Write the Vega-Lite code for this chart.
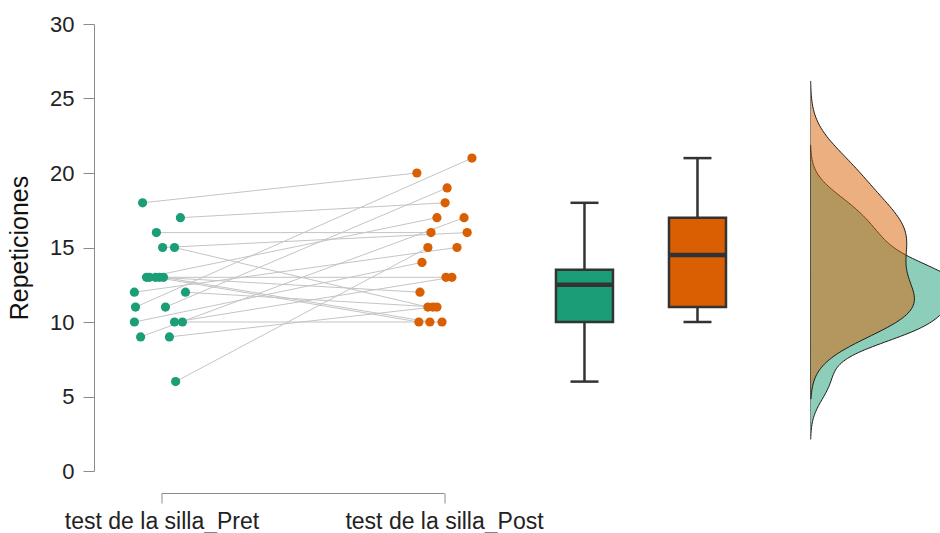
{
  "$schema": "https://vega.github.io/schema/vega-lite/v6.json",
  "background": "white",
  "padding": {"left": 7.5, "top": 13, "right": 0, "bottom": 0},
  "bounds": "flush",
  "spacing": 57,
  "config": {
    "view": {"stroke": null},
    "font": "Liberation Sans",
    "axis": {"labelFont": "Liberation Sans", "titleFont": "Liberation Sans", "grid": false}
  },
  "datasets": {
    "obs": [
      {"id": 1, "time": "test de la silla_Pret", "value": 18, "jitter": -0.067},
      {"id": 1, "time": "test de la silla_Post", "value": 20, "jitter": -0.096},
      {"id": 2, "time": "test de la silla_Pret", "value": 17, "jitter": 0.067},
      {"id": 2, "time": "test de la silla_Post", "value": 18, "jitter": 0.004},
      {"id": 3, "time": "test de la silla_Pret", "value": 16, "jitter": -0.018},
      {"id": 3, "time": "test de la silla_Post", "value": 16, "jitter": -0.046},
      {"id": 4, "time": "test de la silla_Pret", "value": 15, "jitter": 0.004},
      {"id": 4, "time": "test de la silla_Post", "value": 16, "jitter": 0.082},
      {"id": 5, "time": "test de la silla_Pret", "value": 15, "jitter": 0.046},
      {"id": 5, "time": "test de la silla_Post", "value": 11, "jitter": -0.057},
      {"id": 6, "time": "test de la silla_Pret", "value": 13, "jitter": -0.053},
      {"id": 6, "time": "test de la silla_Post", "value": 17, "jitter": -0.025},
      {"id": 7, "time": "test de la silla_Pret", "value": 13, "jitter": -0.021},
      {"id": 7, "time": "test de la silla_Post", "value": 10, "jitter": -0.089},
      {"id": 8, "time": "test de la silla_Pret", "value": 13, "jitter": 0.007},
      {"id": 8, "time": "test de la silla_Post", "value": 10, "jitter": -0.05},
      {"id": 9, "time": "test de la silla_Pret", "value": 13, "jitter": -0.043},
      {"id": 9, "time": "test de la silla_Post", "value": 13, "jitter": 0.007},
      {"id": 10, "time": "test de la silla_Pret", "value": 13, "jitter": -0.007},
      {"id": 10, "time": "test de la silla_Post", "value": 12, "jitter": -0.085},
      {"id": 11, "time": "test de la silla_Pret", "value": 12, "jitter": -0.096},
      {"id": 11, "time": "test de la silla_Post", "value": 15, "jitter": 0.046},
      {"id": 12, "time": "test de la silla_Pret", "value": 12, "jitter": 0.085},
      {"id": 12, "time": "test de la silla_Post", "value": 11, "jitter": -0.025},
      {"id": 13, "time": "test de la silla_Pret", "value": 11, "jitter": -0.092},
      {"id": 13, "time": "test de la silla_Post", "value": 21, "jitter": 0.099},
      {"id": 14, "time": "test de la silla_Pret", "value": 11, "jitter": 0.014},
      {"id": 14, "time": "test de la silla_Post", "value": 19, "jitter": 0.011},
      {"id": 15, "time": "test de la silla_Pret", "value": 10, "jitter": -0.096},
      {"id": 15, "time": "test de la silla_Post", "value": 14, "jitter": -0.078},
      {"id": 16, "time": "test de la silla_Pret", "value": 10, "jitter": 0.046},
      {"id": 16, "time": "test de la silla_Post", "value": 13, "jitter": 0.028},
      {"id": 17, "time": "test de la silla_Pret", "value": 10, "jitter": 0.074},
      {"id": 17, "time": "test de la silla_Post", "value": 10, "jitter": -0.007},
      {"id": 18, "time": "test de la silla_Pret", "value": 9, "jitter": -0.074},
      {"id": 18, "time": "test de la silla_Post", "value": 17, "jitter": 0.071},
      {"id": 19, "time": "test de la silla_Pret", "value": 9, "jitter": 0.028},
      {"id": 19, "time": "test de la silla_Post", "value": 11, "jitter": -0.039},
      {"id": 20, "time": "test de la silla_Pret", "value": 6, "jitter": 0.05},
      {"id": 20, "time": "test de la silla_Post", "value": 15, "jitter": -0.057}
    ]
  },
  "hconcat": [
    {
      "width": 282.5,
      "height": 447,
      "data": {"name": "obs"},
      "encoding": {
        "x": {
          "field": "time", "type": "nominal",
          "sort": ["test de la silla_Pret", "test de la silla_Post"],
          "scale": {"type": "point", "padding": 0},
          "axis": {"title": null, "offset": 22, "tickSize": 10, "labelFontSize": 23, "labelAngle": 0, "labelPadding": 7, "labelLimit": 0, "domainColor": "#8c8c8c", "tickColor": "#8c8c8c", "labelColor": "#222222"}
        },
        "xOffset": {"field": "jitter", "type": "quantitative", "scale": {"domain": [-1, 1], "range": [-282.5, 282.5]}},
        "y": {
          "field": "value", "type": "quantitative",
          "scale": {"domain": [0, 30], "nice": false},
          "axis": {"title": "Repeticiones", "values": [0, 5, 10, 15, 20, 25, 30], "offset": 67.5, "tickSize": 11, "labelPadding": 9, "labelFontSize": 22, "titleFontSize": 25, "titlePadding": 17, "titleFontWeight": "normal", "domainColor": "#8c8c8c", "tickColor": "#8c8c8c", "labelColor": "#222222", "titleColor": "#111111"}
        }
      },
      "layer": [
        {
          "mark": {"type": "line", "color": "#c4c4c4", "strokeWidth": 1},
          "encoding": {"detail": {"field": "id", "type": "nominal"}}
        },
        {
          "mark": {"type": "point", "filled": true, "opacity": 1, "size": 85},
          "encoding": {
            "color": {"field": "time", "type": "nominal", "scale": {"domain": ["test de la silla_Pret", "test de la silla_Post"], "range": ["#1b9e77", "#d95f02"]}, "legend": null}
          }
        }
      ]
    },
    {
      "width": 252,
      "height": 447,
      "data": {"name": "obs"},
      "encoding": {
        "x": {
          "field": "time", "type": "nominal",
          "sort": ["test de la silla_Pret", "test de la silla_Post"],
          "scale": {"type": "point", "padding": 0.615, "align": 0.597},
          "axis": null
        }
      },
      "layer": [
        {
          "mark": {"type": "rule", "color": "#333333", "strokeWidth": 2.5},
          "encoding": {
            "y": {"aggregate": "min", "field": "value", "type": "quantitative", "scale": {"domain": [0, 30], "nice": false}, "axis": null},
            "y2": {"aggregate": "max", "field": "value"}
          }
        },
        {
          "mark": {"type": "tick", "color": "#333333", "thickness": 2.5, "size": 28, "opacity": 1},
          "encoding": {"y": {"aggregate": "min", "field": "value", "type": "quantitative"}}
        },
        {
          "mark": {"type": "tick", "color": "#333333", "thickness": 2.5, "size": 28, "opacity": 1},
          "encoding": {"y": {"aggregate": "max", "field": "value", "type": "quantitative"}}
        },
        {
          "mark": {"type": "bar", "size": 57, "stroke": "#333333", "strokeWidth": 2.5},
          "encoding": {
            "y": {"aggregate": "q1", "field": "value", "type": "quantitative"},
            "y2": {"aggregate": "q3", "field": "value"},
            "color": {"field": "time", "type": "nominal", "scale": {"domain": ["test de la silla_Pret", "test de la silla_Post"], "range": ["#1b9e77", "#d95f02"]}, "legend": null}
          }
        },
        {
          "mark": {"type": "tick", "color": "#333333", "thickness": 4.5, "size": 55, "opacity": 1},
          "encoding": {"y": {"aggregate": "median", "field": "value", "type": "quantitative"}}
        }
      ]
    },
    {
      "width": 130,
      "height": 447,
      "data": {"name": "obs"},
      "layer": [
        {
          "transform": [
            {"filter": "datum.time == 'test de la silla_Pret'"},
            {"density": "value", "bandwidth": 1.2913, "extent": [2.126, 21.874], "steps": 200, "as": ["value", "density"]}
          ],
          "mark": {"type": "area", "orient": "horizontal", "fill": "#1b9e77", "fillOpacity": 0.5, "stroke": "#1a1a1a", "strokeWidth": 1, "clip": true},
          "encoding": {
            "y": {"field": "value", "type": "quantitative", "scale": {"domain": [0, 30], "nice": false}, "axis": null},
            "x": {"field": "density", "type": "quantitative", "scale": {"domain": [0, 0.115], "nice": false, "zero": true}, "axis": null}
          }
        },
        {
          "transform": [
            {"filter": "datum.time == 'test de la silla_Post'"},
            {"density": "value", "bandwidth": 1.7236, "extent": [4.829, 26.171], "steps": 200, "as": ["value", "density"]}
          ],
          "mark": {"type": "area", "orient": "horizontal", "fill": "#d95f02", "fillOpacity": 0.5, "stroke": "#1a1a1a", "strokeWidth": 1, "clip": true},
          "encoding": {
            "y": {"field": "value", "type": "quantitative", "scale": {"domain": [0, 30], "nice": false}, "axis": null},
            "x": {"field": "density", "type": "quantitative", "scale": {"domain": [0, 0.115], "nice": false, "zero": true}, "axis": null}
          }
        }
      ]
    }
  ]
}
